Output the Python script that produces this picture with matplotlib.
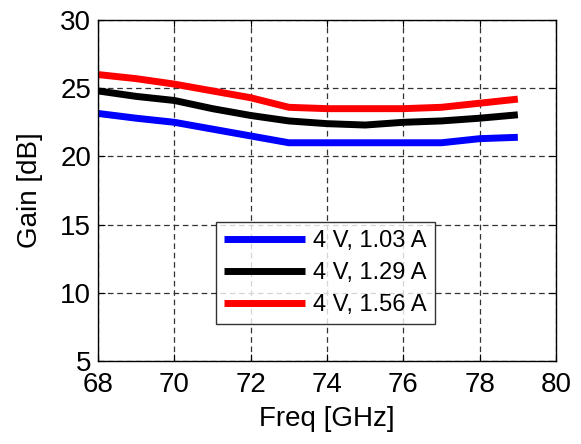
import matplotlib
matplotlib.use("Agg")
import matplotlib.pyplot as plt

freq = [68, 69, 70, 71, 72, 73, 74, 75, 76, 77, 78, 79]
gain_103 = [23.15, 22.8, 22.5, 22.0, 21.5, 21.0, 21.0, 21.0, 21.0, 21.0, 21.3, 21.4]
gain_129 = [24.8, 24.4, 24.1, 23.5, 23.0, 22.6, 22.4, 22.3, 22.5, 22.6, 22.8, 23.05]
gain_156 = [26.0, 25.7, 25.3, 24.8, 24.3, 23.6, 23.5, 23.5, 23.5, 23.6, 23.9, 24.2]
labels = ["4 V, 1.03 A", "4 V, 1.29 A", "4 V, 1.56 A"]

plt.rcParams['font.family'] = ['Liberation Sans', 'DejaVu Sans']

fig = plt.figure(figsize=(5.81, 4.44), dpi=100)
ax = fig.add_axes([98/581, 1 - 361/444, (556-98)/581, (361-20)/444])

ax.plot(freq, gain_103, color='#0000ff', lw=5, label=labels[0], solid_capstyle='butt')
ax.plot(freq, gain_129, color='black', lw=5, label=labels[1], solid_capstyle='butt')
ax.plot(freq, gain_156, color='#ff0000', lw=5, label=labels[2], solid_capstyle='butt')

ax.set_xlim(68, 80)
ax.set_ylim(5, 30)
ax.set_xticks(range(68, 81, 2))
ax.set_yticks(range(5, 31, 5))
ax.grid(True, color='#333333', linestyle=(0, (4.5, 3)), linewidth=0.9)
ax.tick_params(direction='in', top=True, right=True, labelsize=20, length=5)
ax.tick_params(axis='x', pad=8)
ax.tick_params(axis='y', pad=5)
for s in ax.spines.values():
    s.set_linewidth(1.0)
ax.set_xlabel("Freq [GHz]", fontsize=20, labelpad=6)
ax.set_ylabel("Gain [dB]", fontsize=20, labelpad=12)

leg = ax.legend(loc='upper left', bbox_to_anchor=(0.258, 0.408), fontsize=17,
                frameon=True, fancybox=False, edgecolor='black', handlelength=3.4,
                handletextpad=0.35, borderpad=0.35, labelspacing=0.42,
                borderaxespad=0)
leg.get_frame().set_linewidth(1.0)

fig.savefig("out.png", dpi=100)
